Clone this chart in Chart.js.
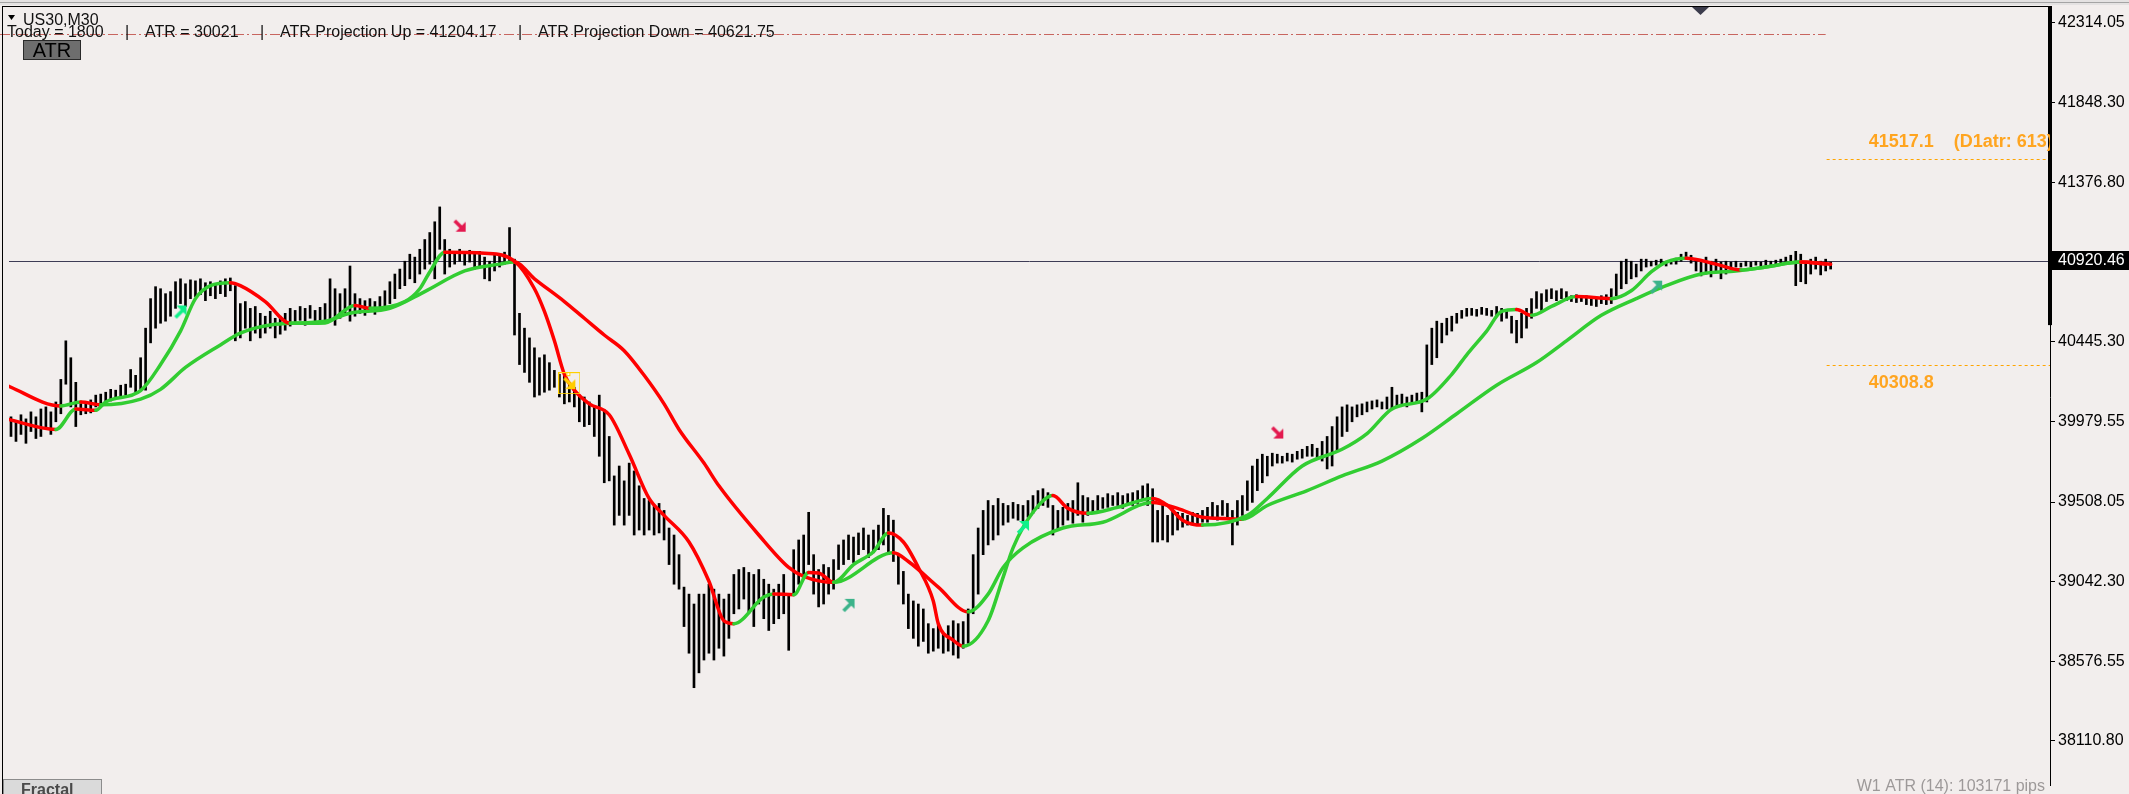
<!DOCTYPE html>
<html>
<head>
<meta charset="utf-8">
<script src="https://cdn.jsdelivr.net/npm/chart.js@4.4.1/dist/chart.umd.min.js"></script>
<style>
  html, body { margin: 0; padding: 0; background: #f2eeed; }
  #wrap { width: 2129px; height: 794px; }
</style>
</head>
<body>
<div id="wrap"><canvas id="priceChart" width="2129" height="794"></canvas></div>
<script>
// US30 M30 bars, one entry per bar (high / low)
const highs = [
  40007,39978,40019,39995,40036,40007,40053,40065,40036,40094,
  40226,40452,40353,40209,40094,40083,40106,40134,40140,40151,
  40168,40163,40192,40198,40284,40250,40353,40526,40699,40769,
  40757,40728,40740,40798,40815,40786,40809,40803,40815,40792,
  40798,40786,40803,40815,40820,40775,40670,40682,40642,40653,
  40613,40596,40625,40584,40596,40613,40642,40630,40653,40642,
  40659,40630,40648,40670,40815,40757,40728,40757,40890,40728,
  40699,40687,40699,40682,40711,40745,40798,40843,40872,40918,
  40959,40942,40988,41045,41086,41149,41236,41045,40988,40976,
  40988,40965,40982,40959,40976,40942,40918,40959,40948,40971,
  41115,40930,40613,40526,40469,40411,40353,40370,40324,40279,
  40256,40250,40209,40180,40134,40123,40094,40065,40134,40048,
  39892,39661,39719,39632,39736,39690,39603,39529,39517,39488,
  39500,39459,39356,39315,39200,39010,38969,38911,38969,38969,
  39027,38998,38969,38940,38969,39084,39113,39125,39096,39084,
  39113,39056,39027,38998,39027,39084,38969,39229,39286,39315,
  39448,39200,39113,39142,39125,39171,39257,39286,39315,39303,
  39327,39356,39315,39344,39373,39471,39430,39402,39200,39102,
  38969,38929,38911,38882,38796,38767,38796,38739,38784,38813,
  38796,38808,38882,39200,39356,39459,39517,39488,39529,39500,
  39488,39506,39494,39488,39517,39546,39575,39586,39563,39488,
  39459,39477,39500,39517,39621,39546,39534,39517,39546,39534,
  39557,39546,39563,39546,39557,39563,39575,39603,39615,39586,
  39459,39488,39430,39471,39448,39442,39430,39448,39442,39459,
  39477,39506,39488,39517,39500,39459,39517,39546,39632,39719,
  39759,39788,39776,39794,39788,39776,39794,39788,39805,39817,
  39834,39846,39823,39863,39892,39950,40007,40065,40077,40065,
  40077,40083,40094,40100,40106,40094,40123,40180,40134,40140,
  40123,40134,40146,40151,40428,40526,40567,40555,40584,40596,
  40613,40630,40642,40642,40636,40648,40642,40630,40653,40642,
  40630,40596,40572,40613,40642,40699,40740,40728,40751,40757,
  40745,40757,40740,40716,40722,40711,40716,40711,40699,40716,
  40722,40757,40843,40918,40930,40918,40901,40930,40930,40918,
  40924,40930,40918,40924,40936,40959,40971,40953,40930,40918,
  40942,40918,40930,40913,40918,40913,40918,40907,40918,40913,
  40918,40913,40924,40918,40924,40930,40942,40953,40976,40959,
  40918,40930,40942,40918,40930,40913
];
const lows = [
  39892,39863,39904,39852,39921,39880,39892,39938,39904,39978,
  40025,40198,40065,39950,40019,40025,40030,40065,40083,40094,
  40100,40111,40123,40134,40180,40151,40168,40163,40440,40526,
  40555,40567,40596,40642,40670,40653,40699,40711,40722,40687,
  40716,40699,40728,40711,40745,40452,40469,40526,40452,40497,
  40469,40497,40526,40469,40491,40514,40538,40555,40572,40543,
  40584,40561,40572,40555,40572,40543,40584,40613,40567,40596,
  40613,40601,40630,40607,40630,40642,40670,40699,40757,40775,
  40815,40792,40843,40872,40901,40815,40988,40843,40884,40901,
  40918,40895,40913,40872,40884,40815,40803,40861,40884,40901,
  40918,40486,40313,40267,40209,40123,40134,40151,40163,40180,
  40123,40083,40094,40065,39978,39950,39961,39892,39776,39621,
  39632,39373,39430,39373,39430,39315,39344,39315,39344,39315,
  39327,39286,39142,39027,38998,38779,38623,38421,38508,38583,
  38623,38583,38652,38606,38710,38854,38882,38940,38854,38779,
  38911,38825,38756,38796,38825,38854,38640,38969,39027,39084,
  39142,38969,38894,38911,38969,38998,39113,39142,39171,39154,
  39200,39229,39183,39211,39229,39257,39200,39160,39027,38911,
  38767,38710,38664,38692,38623,38635,38652,38623,38635,38612,
  38594,38652,38681,38854,38969,39200,39257,39286,39315,39373,
  39390,39413,39402,39390,39419,39442,39471,39488,39477,39315,
  39344,39373,39402,39384,39430,39390,39430,39442,39459,39471,
  39477,39488,39488,39471,39500,39488,39500,39517,39488,39274,
  39274,39286,39274,39315,39344,39361,39373,39384,39373,39390,
  39390,39419,39402,39430,39419,39257,39373,39430,39459,39506,
  39575,39621,39661,39719,39736,39736,39748,39742,39759,39765,
  39776,39776,39765,39748,39702,39719,39805,39892,39921,39978,
  40007,40019,40036,40053,40065,40053,40053,40048,40065,40083,
  40065,40083,40094,40036,40094,40313,40353,40440,40486,40509,
  40555,40584,40596,40601,40596,40607,40601,40596,40596,40567,
  40584,40497,40440,40469,40526,40584,40642,40630,40682,40699,
  40687,40699,40687,40682,40676,40682,40664,40659,40653,40670,
  40664,40670,40716,40757,40786,40815,40826,40861,40884,40890,
  40895,40895,40890,40901,40901,40918,40930,40907,40861,40832,
  40843,40826,40861,40815,40843,40872,40884,40884,40890,40884,
  40895,40884,40895,40890,40901,40895,40901,40913,40775,40798,
  40786,40843,40872,40838,40861,40872
];

// fast moving average (bar index / price)
const fastX = [-1,9,13,17,19,26,30,34,37,40,44,46,51,56,63,69,72,79,82,84,87,95,101,105,107,109,111,113,116,120,
  124,128,131,136,140,143,145,151,153,157,160,162,165,169,173,176,179,182,185,186,189,191,196,199,201,205,209,212,216,222,
  229,232,235,239,248,252,259,267,272,277,284,289,292,296,299,302,305,309,314,321,325,329,332,336,342,347,352,359,364];
const fastY = [39995,39933,40053,40045,40094,40160,40313,40509,40699,40775,40792,40775,40682,40555,40557,40659,40642,40682,40757,40855,40971,40965,40918,40757,40624,40452,40256,40163,40083,40019,
  39788,39529,39430,39274,39044,38813,38796,38952,38970,38965,39096,39093,39038,39142,39217,39327,39274,39125,38929,38796,38699,38664,38813,39067,39240,39448,39546,39471,39442,39477,
  39529,39488,39402,39373,39430,39529,39719,39817,39909,40053,40111,40256,40370,40509,40624,40636,40601,40653,40711,40699,40745,40855,40913,40936,40901,40867,40884,40913,40901];

// slow moving average
const slowX = [-1,10,14,18,26,30,35,42,46,53,63,68,76,83,91,98,101,105,111,115,119,123,127,131,134,139,142,150,156,159,
  165,177,180,186,192,196,199,203,211,219,229,234,239,242,247,252,260,267,275,283,290,298,306,312,319,326,332,339,346,352,359,365];
const slowY = [40192,40071,40094,40077,40111,40168,40296,40428,40497,40549,40567,40613,40642,40740,40861,40901,40913,40815,40682,40584,40486,40394,40250,40083,39933,39736,39603,39315,39125,39073,
  39038,39211,39160,39010,38865,38969,39125,39240,39356,39390,39506,39471,39419,39413,39407,39488,39575,39661,39748,39880,40025,40192,40325,40452,40601,40699,40775,40843,40861,40884,40913,40901];

// signal arrows
const sigX = [34, 90, 112, 168, 203, 254, 330];
const sigY = [40624, 41126, 40204, 38906, 39362, 39915, 40769];
const sigKind = ['upBright', 'down', 'yellow', 'upTeal', 'upBright', 'down', 'upTeal'];

// price axis
const yTicks = [42314.05, 41848.30, 41376.80, 40445.30, 39979.55, 39508.05, 39042.30, 38576.55, 38110.80];
const yMin = 37851.34, yMax = 42394.77;
const lastPrice = 40920.46;
const atrLineLevel = 42250.6;
const d1Up = 41517.1, d1Down = 40308.8, d1Atr = '613';
const axisBarLow = 40544;

const todayRange = 1800, atrValue = 30021, projUp = 41204.17, projDown = 40621.75;
const w1Atr = 103171;

const RED = '#ff0000', GREEN = '#32cd32';
const trendColor = c => c.p1.parsed.y < c.p0.parsed.y ? RED : GREEN;

function makeArrow(color, up, boxed) {
  const s = boxed ? 22 : 16, o = boxed ? 4 : 1;
  const c = document.createElement('canvas');
  c.width = s; c.height = s;
  const g = c.getContext('2d');
  g.strokeStyle = color; g.fillStyle = color; g.lineWidth = 3.5;
  g.beginPath();
  if (up) {
    g.moveTo(o + 2, o + 13); g.lineTo(o + 9, o + 6); g.stroke();
    g.beginPath(); g.moveTo(o + 13, o + 1); g.lineTo(o + 13, o + 11); g.lineTo(o + 3, o + 1);
  } else {
    g.moveTo(o + 2, o + 2); g.lineTo(o + 9, o + 9); g.stroke();
    g.beginPath(); g.moveTo(o + 13, o + 13); g.lineTo(o + 13, o + 3); g.lineTo(o + 3, o + 13);
  }
  g.closePath(); g.fill();
  if (boxed) {
    g.strokeStyle = '#ffd000'; g.lineWidth = 1;
    g.strokeRect(0.5, 0.5, s - 1, s - 1);
    g.fillStyle = '#fff'; g.fillRect(8, 0, 4, 4);
    g.strokeRect(8.5, 0.5, 3, 3);
  }
  return c;
}
const arrows = {
  upBright: makeArrow('#10f08a', true, false),
  upTeal: makeArrow('#3cb38a', true, false),
  down: makeArrow('#e3194f', false, false),
  yellow: makeArrow('#ffcc00', false, true)
};

const decor = {
  id: 'decor',
  beforeDraw(chart) {
    const ctx = chart.ctx;
    ctx.save();
    ctx.fillStyle = '#f2eeed';
    ctx.fillRect(0, 0, chart.width, chart.height);
    ctx.fillStyle = '#e4e2e2';
    ctx.fillRect(0, 0, chart.width, 5);
    ctx.fillStyle = '#a4a4a4';
    ctx.fillRect(0, 2, chart.width, 1);
    ctx.restore();
  },
  beforeDatasetsDraw(chart) {
    const ctx = chart.ctx, a = chart.chartArea;
    const x = chart.scales.x, y = chart.scales.y;
    ctx.save();
    // last price line
    const py = Math.round(y.getPixelForValue(lastPrice)) + 0.5;
    ctx.strokeStyle = '#3e3c56'; ctx.lineWidth = 1;
    ctx.beginPath(); ctx.moveTo(a.left, py); ctx.lineTo(a.right, py); ctx.stroke();
    // ATR dash-dot line
    const ay = Math.round(y.getPixelForValue(atrLineLevel)) + 0.5;
    ctx.strokeStyle = '#c8655f';
    ctx.setLineDash([10, 3, 2, 3]);
    ctx.beginPath(); ctx.moveTo(0, ay); ctx.lineTo(x.getPixelForValue(highs.length - 2), ay); ctx.stroke();
    // D1 ATR levels
    const x0 = x.getPixelForValue(highs.length - 1) - 4;
    ctx.strokeStyle = '#ffa500';
    ctx.setLineDash([3, 3]);
    [d1Up, d1Down].forEach(v => {
      const ly = Math.round(y.getPixelForValue(v)) + 0.5;
      ctx.beginPath(); ctx.moveTo(x0, ly); ctx.lineTo(a.right, ly); ctx.stroke();
    });
    ctx.restore();
  },
  afterDraw(chart) {
    const ctx = chart.ctx, a = chart.chartArea;
    const x = chart.scales.x, y = chart.scales.y;
    ctx.save();
    // frame
    ctx.fillStyle = '#000';
    ctx.fillRect(2, 6, a.right - 2, 1);
    ctx.fillRect(2, 6, 1, chart.height - 6);
    ctx.fillRect(a.right - 2, 6, 4, y.getPixelForValue(axisBarLow) - 6);

    // shift marker
    ctx.fillStyle = '#3c3c4c';
    ctx.beginPath(); ctx.moveTo(1692, 7); ctx.lineTo(1709, 7); ctx.lineTo(1700.5, 15); ctx.closePath(); ctx.fill();

    // D1 labels
    const x0 = x.getPixelForValue(highs.length - 1) - 4;
    ctx.save();
    ctx.beginPath(); ctx.rect(a.left, a.top, a.right - a.left, a.bottom - a.top); ctx.clip();
    ctx.fillStyle = '#ffa520';
    ctx.font = 'bold 18px "Liberation Sans"';
    ctx.textBaseline = 'alphabetic';
    ctx.fillText(d1Up.toFixed(1) + '    (D1atr: ' + d1Atr + ')', x0 + 42, y.getPixelForValue(d1Up) - 12);
    ctx.fillText(d1Down.toFixed(1), x0 + 42, y.getPixelForValue(d1Down) + 23);
    ctx.restore();

    // header
    ctx.fillStyle = '#000';
    ctx.beginPath(); ctx.moveTo(8, 15); ctx.lineTo(15, 15); ctx.lineTo(11.5, 20); ctx.closePath(); ctx.fill();
    ctx.font = '16px "Liberation Sans"';
    ctx.fillStyle = '#111';
    ctx.fillText('US30,M30', 23, 25);
    const parts = [
      ['Today = ' + todayRange, 7], ['|', 125], ['ATR = ' + atrValue, 145], ['|', 260],
      ['ATR Projection Up = ' + projUp.toFixed(2), 280], ['|', 518],
      ['ATR Projection Down = ' + projDown.toFixed(2), 538]
    ];
    parts.forEach(p => ctx.fillText(p[0], p[1], 37));

    // ATR button
    ctx.fillStyle = '#6e6e6e';
    ctx.fillRect(23, 40, 58, 20);
    ctx.strokeStyle = '#2a2a2a'; ctx.lineWidth = 1;
    ctx.strokeRect(23.5, 40.5, 57, 19);
    ctx.fillStyle = '#000';
    ctx.font = '20px "Liberation Sans"';
    ctx.textAlign = 'center';
    ctx.fillText('ATR', 52, 57);

    // Fractal tab
    ctx.textAlign = 'left';
    ctx.fillStyle = '#dadada';
    ctx.fillRect(3, 779, 99, 15);
    ctx.strokeStyle = '#8c8c8c';
    ctx.strokeRect(3.5, 779.5, 98, 16);
    ctx.fillStyle = '#4a4a4a';
    ctx.font = 'bold 16px "Liberation Sans"';
    ctx.fillText('Fractal', 21, 795);

    // W1 ATR
    ctx.textAlign = 'right';
    ctx.fillStyle = '#9d9999';
    ctx.font = '16px "Liberation Sans"';
    ctx.fillText('W1 ATR (14): ' + w1Atr + ' pips', 2045, 791);

    // last price tag
    const py = y.getPixelForValue(lastPrice);
    ctx.fillStyle = '#000';
    ctx.fillRect(a.right, Math.round(py) - 10, chart.width - a.right, 19);
    ctx.fillStyle = '#fff';
    ctx.textAlign = 'left';
    ctx.textBaseline = 'middle';
    ctx.fillText(lastPrice.toFixed(2), a.right + 8, py);
    ctx.restore();
  }
};

new Chart(document.getElementById('priceChart'), {
  type: 'bar',
  data: {
    datasets: [
      {
        type: 'line',
        data: fastX.map((v, i) => ({x: v, y: fastY[i]})),
        borderColor: GREEN,
        borderWidth: 3.5,
        pointRadius: 0,
        cubicInterpolationMode: 'monotone',
        borderCapStyle: 'round',
        segment: { borderColor: trendColor },
        order: 2
      },
      {
        type: 'line',
        data: slowX.map((v, i) => ({x: v, y: slowY[i]})),
        borderColor: GREEN,
        borderWidth: 3.5,
        pointRadius: 0,
        cubicInterpolationMode: 'monotone',
        borderCapStyle: 'round',
        segment: { borderColor: trendColor },
        order: 2
      },
      {
        type: 'line',
        showLine: false,
        data: sigX.map((v, i) => ({x: v, y: sigY[i]})),
        pointStyle: sigKind.map(k => arrows[k]),
        pointRadius: 8,
        order: 1
      },
      {
        type: 'bar',
        data: highs.map((h, i) => ({x: i, y: [lows[i], h]})),
        backgroundColor: '#000',
        borderWidth: 0,
        barThickness: 2,
        order: 3
      }
    ]
  },
  options: {
    responsive: false,
    devicePixelRatio: 1,
    animation: false,
    events: [],
    layout: { padding: { left: 3, top: 6, right: 0, bottom: 0 } },
    plugins: { legend: { display: false }, tooltip: { enabled: false } },
    scales: {
      x: {
        type: 'linear',
        min: -0.4,
        max: 409,
        offset: false,
        display: false
      },
      y: {
        position: 'right',
        min: yMin,
        max: yMax,
        afterBuildTicks: s => { s.ticks = yTicks.map(v => ({value: v})); },
        afterFit: s => { s.width = 79; s.paddingTop = 0; s.paddingBottom = 0; },
        border: { display: true, color: '#000', width: 1 },
        grid: { drawOnChartArea: false, drawTicks: true, tickLength: 5, color: '#000' },
        ticks: {
          autoSkip: false,
          padding: 3,
          color: '#000',
          font: { family: 'Liberation Sans', size: 16 },
          callback: v => Number(v).toFixed(2)
        }
      }
    }
  },
  plugins: [decor]
});
</script>
</body>
</html>
